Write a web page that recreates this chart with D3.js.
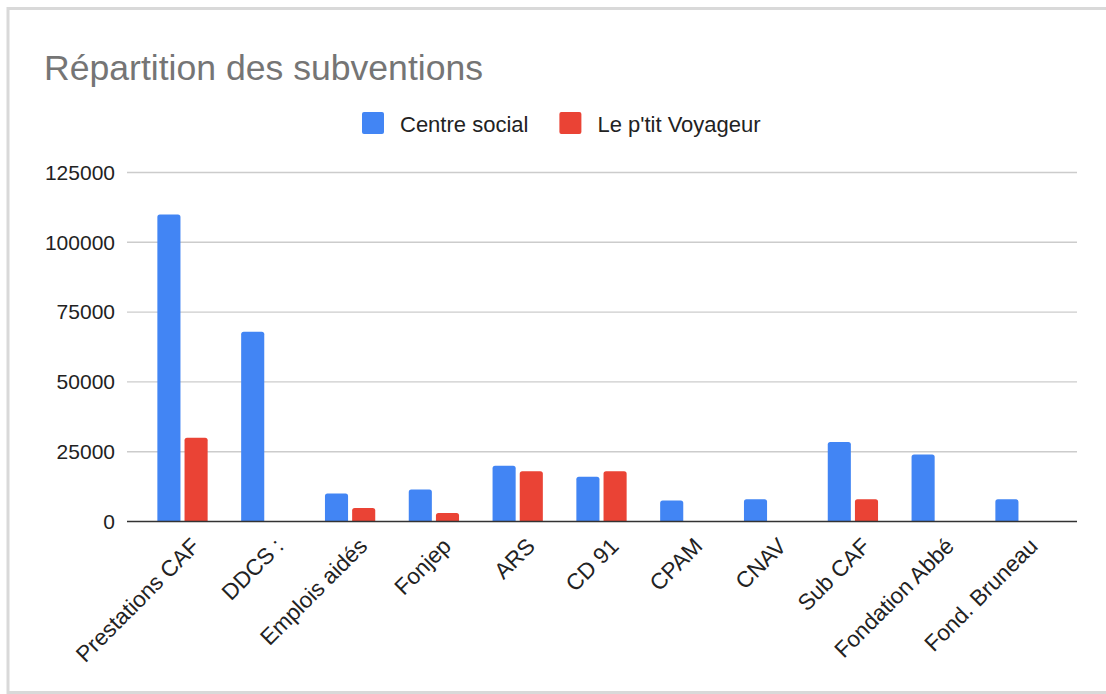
<!DOCTYPE html>
<html>
<head>
<meta charset="utf-8">
<script src="https://cdn.jsdelivr.net/npm/d3@7"></script>
<style>
  html, body { margin: 0; padding: 0; background: #fff; }
  svg { display: block; font-family: "Liberation Sans", Arial, sans-serif; }
</style>
</head>
<body>
<svg id="chart" width="1106" height="694"></svg>
<script>
const categories = ["Prestations CAF", "DDCS :", "Emplois aidés", "Fonjep", "ARS", "CD 91", "CPAM", "CNAV", "Sub CAF", "Fondation Abbé", "Fond. Bruneau"];
const seriesNames = ["Centre social", "Le p'tit Voyageur"];
const centreSocial = [110000, 68000, 10000, 11500, 20000, 16000, 7500, 8000, 28500, 24000, 8000];
const petitVoyageur = [30000, 0, 4800, 3000, 18000, 18000, 0, 0, 8000, 0, 0];
const yTicks = [0, 25000, 50000, 75000, 100000, 125000];
const colors = ["#4285F4", "#EA4335"];

const svg = d3.select("#chart");

// border
svg.append("rect")
  .attr("x", 8).attr("y", 8.5).attr("width", 1120).attr("height", 684)
  .attr("fill", "none").attr("stroke", "#d9d9d9").attr("stroke-width", 3);

// title
svg.append("text")
  .attr("x", 44).attr("y", 80)
  .attr("font-size", 35.6).attr("fill", "#757575")
  .text("Répartition des subventions");

// scales
const x0 = d3.scaleBand().domain(categories).range([140.6, 1062.4]).paddingInner(0.4).paddingOuter(0.2);
const x1 = d3.scaleBand().domain(seriesNames).range([0, x0.bandwidth()]).paddingInner(0.15);
const y = d3.scaleLinear().domain([0, 125000]).range([521.5, 172.5]);

const plotLeft = 127, plotRight = 1077;

// gridlines
svg.append("g").selectAll("line").data(yTicks.filter(d => d > 0)).join("line")
  .attr("x1", plotLeft).attr("x2", plotRight)
  .attr("y1", d => y(d)).attr("y2", d => y(d))
  .attr("stroke", "#cccccc").attr("stroke-width", 1.4);

// y axis labels
const yAxis = d3.axisLeft(y).tickValues(yTicks).tickFormat(d3.format("d")).tickSize(0).tickPadding(0);
const gy = svg.append("g").attr("transform", `translate(115,0)`).call(yAxis);
gy.select(".domain").remove();
gy.selectAll("text").attr("font-size", 21).attr("fill", "#222").attr("font-family", "Liberation Sans, Arial, sans-serif");

// bars
const data = categories.map((c, i) => ({cat: c, values: [centreSocial[i], petitVoyageur[i]]}));
function topRounded(x, yTop, w, h, r) {
  r = Math.min(r, h, w / 2);
  return `M${x},${yTop + h}V${yTop + r}Q${x},${yTop} ${x + r},${yTop}H${x + w - r}Q${x + w},${yTop} ${x + w},${yTop + r}V${yTop + h}Z`;
}
const groups = svg.append("g").selectAll("g").data(data).join("g")
  .attr("transform", d => `translate(${x0(d.cat)},0)`);
groups.selectAll("path").data(d => d.values.map((v, k) => ({v, k})).filter(e => e.v > 0)).join("path")
  .attr("d", e => topRounded(x1(seriesNames[e.k]), y(e.v), x1.bandwidth(), y(0) - y(e.v), 2.5))
  .attr("fill", e => colors[e.k]);

// baseline
svg.append("line")
  .attr("x1", plotLeft).attr("x2", plotRight)
  .attr("y1", y(0)).attr("y2", y(0))
  .attr("stroke", "#333").attr("stroke-width", 1.6);

// x axis labels
const xAxis = d3.axisBottom(x0).tickSize(0).tickPadding(0);
const gx = svg.append("g").call(xAxis);
gx.select(".domain").remove();
gx.selectAll(".tick").attr("transform", d => `translate(${x0(d) + x0.bandwidth() / 2 + 13},542)`);
gx.selectAll("text")
  .attr("font-size", 22.5).attr("fill", "#222").attr("font-family", "Liberation Sans, Arial, sans-serif")
  .attr("text-anchor", "end").attr("x", 0).attr("y", 0).attr("dy", "0.35em")
  .attr("transform", "rotate(-45)");

// legend
const legend = svg.append("g");
let lx = 362;
seriesNames.forEach((name, k) => {
  legend.append("rect").attr("x", lx).attr("y", 112).attr("width", 22).attr("height", 22)
    .attr("rx", 2).attr("fill", colors[k]);
  const t = legend.append("text").attr("x", lx + 38).attr("y", 131.5)
    .attr("font-size", 22).attr("fill", "#222").text(name);
  lx = lx + 38 + t.node().getComputedTextLength() + 31;
});
</script>
</body>
</html>
